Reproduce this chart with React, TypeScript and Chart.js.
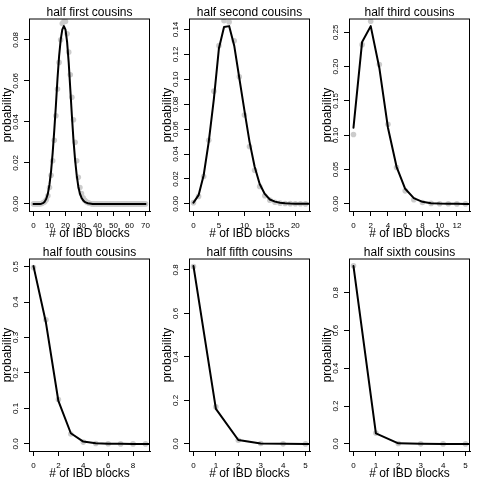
import React, { useEffect, useRef } from 'react';
import { Chart, registerables } from 'chart.js';

Chart.register(...registerables);

const FONT = '"Liberation Sans", Arial, Helvetica, sans-serif';

const TITLES = [
  'half first cousins',
  'half second cousins',
  'half third cousins',
  'half fouth cousins',
  'half fifth cousins',
  'half sixth cousins',
];

const X_TITLE = '# of IBD blocks';
const Y_TITLE = 'probability';

// half first cousins (x = 0..70)
const P1_LINE = [
  0, 0, 0, 0, 0, 0.0001, 0.0004, 0.0011, 0.0025, 0.005,
  0.0095, 0.016, 0.025, 0.036, 0.048, 0.061, 0.072, 0.08, 0.085, 0.0867,
  0.085, 0.079, 0.069, 0.056, 0.043, 0.031, 0.0215, 0.014, 0.0085, 0.005,
  0.003, 0.0018, 0.001, 0.0006, 0.0003, 0.0002, 0.0001, 0, 0, 0,
  0, 0, 0, 0, 0, 0, 0, 0, 0, 0,
  0, 0, 0, 0, 0, 0, 0, 0, 0, 0,
  0, 0, 0, 0, 0, 0, 0, 0, 0, 0,
  0,
];
const P1_POINTS = [
  0, 0, 0, 0, 0, 0.0002, 0.0005, 0.001, 0.002, 0.004,
  0.008, 0.014, 0.021, 0.031, 0.043, 0.056, 0.069, 0.08, 0.088, 0.089,
  0.089, 0.083, 0.074, 0.063, 0.052, 0.041, 0.03, 0.021, 0.013, 0.008,
  0.005, 0.003, 0.0018, 0.001, 0.0005, 0.0003, 0.0001, 0, 0, 0,
  0, 0, 0, 0, 0, 0, 0, 0, 0, 0,
  0, 0, 0, 0, 0, 0, 0, 0, 0, 0,
  0, 0, 0, 0, 0, 0, 0, 0, 0, 0,
  0,
];
const P1_XTICKS = [0, 10, 20, 30, 40, 50, 60, 70];
const P1_YTICKS = [0, 0.02, 0.04, 0.06, 0.08];

// half second cousins (x = 0..22)
const P2_LINE = [
  0.001, 0.007, 0.023, 0.05, 0.084, 0.125, 0.142, 0.1427, 0.127, 0.101,
  0.075, 0.05, 0.03, 0.016, 0.008, 0.0035, 0.0018, 0.0009, 0.0005, 0.0003,
  0.0002, 0.0001, 0.0001, 0, 0,
];
const P2_POINTS = [
  0.001, 0.006, 0.022, 0.051, 0.0905, 0.127, 0.147, 0.146, 0.131, 0.102,
  0.0713, 0.046, 0.027, 0.014, 0.0065, 0.003, 0.0013, 0.0006, 0.0003, 0.0002,
  0.0001, 0.0001, 0,
];
const P2_XTICKS = [0, 5, 10, 15, 20];
const P2_YTICKS = [0, 0.02, 0.04, 0.06, 0.08, 0.1, 0.12, 0.14];

// half third cousins (x = 0..13)
const P3_LINE = [
  0.111, 0.236, 0.259, 0.198, 0.111, 0.054, 0.022, 0.0083, 0.003, 0.001,
  0.0004, 0.0002, 0.0001, 0, 0, 0,
];
const P3_POINTS = [
  0.101, 0.232, 0.266, 0.203, 0.116, 0.053, 0.019, 0.006, 0.002, 0.0007,
  0.0003, 0.0001, 0, 0,
];
const P3_XTICKS = [0, 2, 4, 6, 8, 10, 12];
const P3_YTICKS = [0, 0.05, 0.1, 0.15, 0.2, 0.25];

// half fourth cousins (x = 0..9)
const P4_LINE = [0.5012, 0.342, 0.121, 0.03, 0.0066, 0.0015, 0.0003, 0.0001, 0, 0, 0];
const P4_POINTS = [0.497, 0.35, 0.125, 0.028, 0.005, 0.001, 0.0002, 0, 0, 0];
const P4_XTICKS = [0, 2, 4, 6, 8];
const P4_YTICKS = [0, 0.1, 0.2, 0.3, 0.4, 0.5];

// half fifth cousins (x = 0..5)
const P5_LINE = [0.8174, 0.161, 0.018, 0.002, 0.0003, 0, 0];
const P5_POINTS = [0.815, 0.17, 0.017, 0.0015, 0.0002, 0];
const P5_XTICKS = [0, 1, 2, 3, 4, 5];
const P5_YTICKS = [0, 0.2, 0.4, 0.6, 0.8];

// half sixth cousins (x = 0..5)
const P6_LINE = [0.94, 0.056, 0.003, 0.0002, 0, 0, 0];
const P6_POINTS = [0.942, 0.057, 0.002, 0.0002, 0, 0];
const P6_XTICKS = [0, 1, 2, 3, 4, 5];
const P6_YTICKS = [0, 0.2, 0.4, 0.6, 0.8];

const Y_DECIMALS = [2, 2, 2, 1, 1, 1];

type Panel = {
  title: string;
  line: number[];
  points: number[];
  xTicks: number[];
  yTicks: number[];
  dec: number;
};

const PANELS: Panel[] = [
  { title: TITLES[0], line: P1_LINE, points: P1_POINTS, xTicks: P1_XTICKS, yTicks: P1_YTICKS, dec: Y_DECIMALS[0] },
  { title: TITLES[1], line: P2_LINE, points: P2_POINTS, xTicks: P2_XTICKS, yTicks: P2_YTICKS, dec: Y_DECIMALS[1] },
  { title: TITLES[2], line: P3_LINE, points: P3_POINTS, xTicks: P3_XTICKS, yTicks: P3_YTICKS, dec: Y_DECIMALS[2] },
  { title: TITLES[3], line: P4_LINE, points: P4_POINTS, xTicks: P4_XTICKS, yTicks: P4_YTICKS, dec: Y_DECIMALS[3] },
  { title: TITLES[4], line: P5_LINE, points: P5_POINTS, xTicks: P5_XTICKS, yTicks: P5_YTICKS, dec: Y_DECIMALS[4] },
  { title: TITLES[5], line: P6_LINE, points: P6_POINTS, xTicks: P6_XTICKS, yTicks: P6_YTICKS, dec: Y_DECIMALS[5] },
];

const CELL_W = 160;
const CELL_H = 240;

function PanelChart({ panel }: { panel: Panel }) {
  const ref = useRef<HTMLCanvasElement>(null);

  useEffect(() => {
    const canvas = ref.current;
    if (!canvas) return;
    const lineMax = Math.max(...panel.line);
    const xN = panel.points.length - 1;
    const yLabels = panel.yTicks.map((v) => v.toFixed(panel.dec));

    const frame = {
      id: 'rFrame',
      afterDraw(chart: any) {
        const { ctx, chartArea: a } = chart;
        const ys = chart.scales.y;
        ctx.save();
        ctx.strokeStyle = '#000';
        ctx.lineWidth = 1;
        ctx.beginPath();
        ctx.moveTo(a.left, a.top);
        ctx.lineTo(a.right, a.top);
        ctx.stroke();
        ctx.beginPath();
        ctx.moveTo(a.right - 0.5, a.top);
        ctx.lineTo(a.right - 0.5, a.bottom);
        ctx.stroke();
        ctx.fillStyle = '#000';
        ctx.font = `8px ${FONT}`;
        ctx.textAlign = 'center';
        ctx.textBaseline = 'middle';
        panel.yTicks.forEach((v, i) => {
          const y = ys.getPixelForValue(v);
          ctx.save();
          ctx.translate(a.left - 13.5, y);
          ctx.rotate(-Math.PI / 2);
          ctx.fillText(yLabels[i], 0, 0);
          ctx.restore();
        });
        ctx.restore();
      },
    };

    const gridOpts = {
      display: true,
      drawOnChartArea: false,
      drawTicks: true,
      tickLength: 5,
      color: '#000',
      lineWidth: 1,
    };

    const chart = new Chart(canvas, {
      type: 'line',
      data: {
        datasets: [
          {
            data: panel.line.map((v, i) => ({ x: i, y: v })),
            borderColor: '#000',
            borderWidth: 2,
            borderJoinStyle: 'round',
            borderCapStyle: 'round',
            pointRadius: 0,
            tension: 0,
            fill: false,
            order: 1,
            clip: 0,
          } as any,
          {
            data: panel.points.map((v, i) => ({ x: i, y: v })),
            showLine: false,
            pointRadius: 2.8,
            pointBackgroundColor: '#CCCCCC',
            pointBorderColor: '#CCCCCC',
            pointBorderWidth: 0,
            order: 2,
            clip: 0,
          } as any,
        ],
      },
      options: {
        animation: false,
        responsive: false,
        maintainAspectRatio: false,
        events: [],
        layout: { padding: { left: 0, right: 10, top: 0, bottom: 0 } },
        plugins: {
          legend: { display: false },
          tooltip: { enabled: false },
          title: {
            display: true,
            text: panel.title,
            fullSize: false,
            color: '#000',
            font: { family: FONT, size: 12, weight: 'normal', lineHeight: 1 },
            padding: { top: 7, bottom: 0 },
          },
        },
        scales: {
          x: {
            type: 'linear',
            min: -0.04 * xN,
            max: 1.04 * xN,
            afterBuildTicks: (s: any) => {
              s.ticks = panel.xTicks.map((v) => ({ value: v }));
            },
            afterFit: (s: any) => {
              s.height = 29;
            },
            grid: gridOpts,
            border: { display: true, color: '#000', width: 1 },
            ticks: {
              display: true,
              color: '#000',
              font: { family: FONT, size: 8 },
              padding: 5,
              maxRotation: 0,
              minRotation: 0,
              autoSkip: false,
              callback: (v: any) => String(v),
            },
            title: {
              display: true,
              text: X_TITLE,
              color: '#000',
              font: { family: FONT, size: 12, lineHeight: 1 },
              padding: { top: 0, bottom: 0 },
            },
          },
          y: {
            type: 'linear',
            min: -0.04 * lineMax,
            max: 1.04 * lineMax,
            afterBuildTicks: (s: any) => {
              s.ticks = panel.yTicks.map((v) => ({ value: v }));
            },
            afterFit: (s: any) => {
              s.width = 29;
            },
            grid: gridOpts,
            border: { display: true, color: '#000', width: 1 },
            ticks: { display: false },
            title: {
              display: true,
              text: Y_TITLE,
              color: '#000',
              font: { family: FONT, size: 12, lineHeight: 1 },
              padding: { top: 1.5, bottom: 0 },
            },
          },
        },
      } as any,
      plugins: [frame],
    });

    return () => chart.destroy();
  }, [panel]);

  return (
    <canvas
      ref={ref}
      width={CELL_W}
      height={CELL_H}
      style={{ display: 'block', width: CELL_W, height: CELL_H }}
    />
  );
}

export default function App() {
  return (
    <div
      style={{
        position: 'absolute',
        left: 0,
        top: 0,
        width: 480,
        height: 480,
        background: '#fff',
      }}
    >
      {PANELS.map((p, i) => (
        <div
          key={i}
          style={{
            position: 'absolute',
            left: (i % 3) * CELL_W,
            top: Math.floor(i / 3) * CELL_H,
            width: CELL_W,
            height: CELL_H,
          }}
        >
          <PanelChart panel={p} />
        </div>
      ))}
    </div>
  );
}
